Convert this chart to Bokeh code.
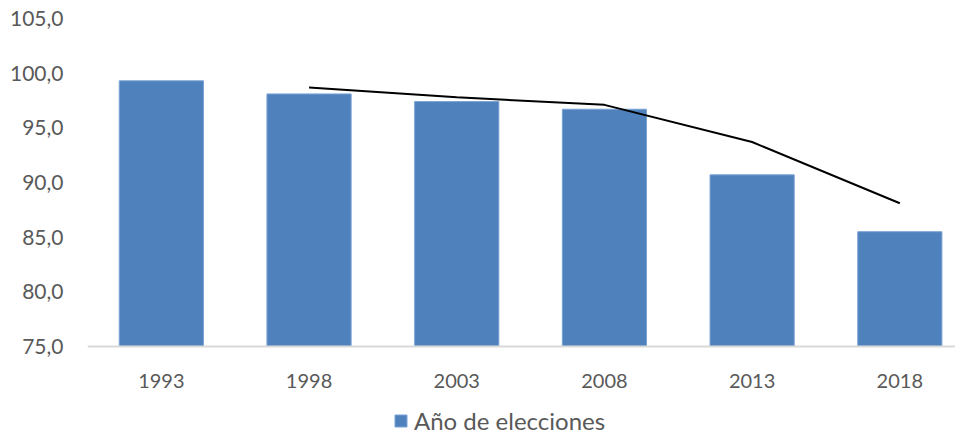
from bokeh.plotting import figure
from bokeh.models import Range1d, FixedTicker, Legend, LegendItem, ColumnDataSource
from bokeh.embed import file_html
from bokeh.resources import INLINE

years = ["1993", "1998", "2003", "2008", "2013", "2018"]
participacion = [99.3, 98.1, 97.4, 96.7, 90.7, 85.5]
tendencia_years = ["1998", "2003", "2008", "2013", "2018"]
tendencia = [98.7, 97.8, 97.1, 93.7, 88.1]
y_ticks = [75, 80, 85, 90, 95, 100, 105]
y_tick_labels = ["75,0", "80,0", "85,0", "90,0", "95,0", "100,0", "105,0"]
serie_nombre = "Año de elecciones"

FONT = "Lato"
TXT = "#595959"

xs = [years.index(y) for y in years]
txs = [years.index(y) for y in tendencia_years]

W, H = 955, 436
LEFT, TOP = 87, 18
Y0, Y1 = 75, 105
px_per_unit = 328 / (Y1 - Y0)
ymin = Y1 - (H - TOP) / px_per_unit

p = figure(width=W, height=H, output_backend="svg", toolbar_location=None,
           x_range=Range1d(-0.5, 5.377), y_range=Range1d(ymin, Y1),
           min_border_left=LEFT, min_border_right=0, min_border_top=TOP, min_border_bottom=0)
p.outline_line_color = None
p.grid.grid_line_color = None

src = ColumnDataSource(dict(x=xs, top=participacion))
bars = p.vbar(x="x", top="top", bottom=Y0, width=0.57, source=src,
              fill_color="#4f81bd", line_color="#7aa3d4", line_width=1)
p.line(txs, tendencia, line_color="black", line_width=2)

p.xaxis.fixed_location = Y0
p.xaxis.ticker = FixedTicker(ticks=xs)
p.xaxis.major_label_overrides = {i: y for i, y in zip(xs, years)}
p.xaxis.axis_line_color = "#d9d9d9"
p.xaxis.axis_line_width = 2
p.xaxis.major_tick_line_color = None
p.xaxis.minor_tick_line_color = None
p.xaxis.major_label_standoff = 21
p.xaxis.major_label_text_font = FONT
p.xaxis.major_label_text_font_size = "20px"
p.xaxis.major_label_text_color = TXT

p.yaxis.ticker = FixedTicker(ticks=y_ticks)
p.yaxis.major_label_overrides = {t: l for t, l in zip(y_ticks, y_tick_labels)}
p.yaxis.axis_line_color = None
p.yaxis.major_tick_line_color = None
p.yaxis.minor_tick_line_color = None
p.yaxis.major_label_standoff = 18
p.yaxis.major_label_text_font = FONT
p.yaxis.major_label_text_font_size = "21px"
p.yaxis.major_label_text_color = TXT

legend = Legend(items=[LegendItem(label=serie_nombre, renderers=[bars])],
                orientation="horizontal", location=(306, 1),
                border_line_color=None, background_fill_alpha=0,
                label_text_font=FONT, label_text_font_size="24px", label_text_color=TXT,
                glyph_width=15, glyph_height=15, padding=0, margin=0, label_standoff=6)
p.add_layout(legend, "center")

open("out.html", "w").write(file_html(p, INLINE))
